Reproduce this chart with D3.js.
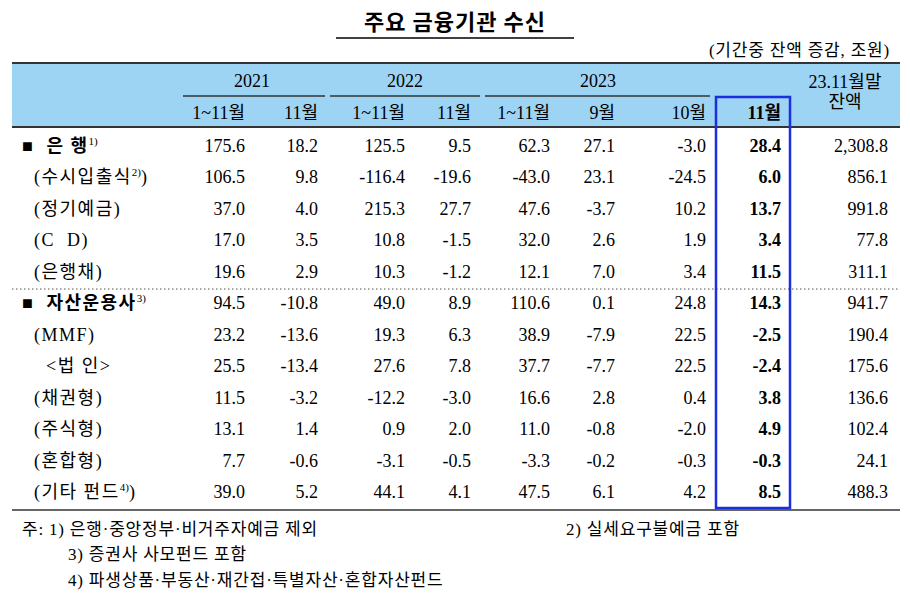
<!DOCTYPE html><html><head><meta charset="utf-8"><script src="https://cdn.jsdelivr.net/npm/d3@7"></script>
<style>body{margin:0;background:#fff} text{white-space:pre}</style></head><body><svg id="c" width="910" height="606"></svg>
<script>
const rowLabels=["은 행","(수시입출식","(정기예금)","(C  D)","(은행채)","자산운용사","(MMF)","  <법 인>","(채권형)","(주식형)","(혼합형)","(기타 펀드"];
const rowSup=["1)","2)","","","","3)","","","","","","4)"];
const rowTail=["","\u0029","","","","","","","","","","\u0029"];
const colLabels=["1~11월","11월","1~11월","11월","1~11월","9월","10월","11월","잔액"];
const years=["2021","2022","2023"];
const v2021a=[175.6,106.5,37.0,17.0,19.6,94.5,23.2,25.5,11.5,13.1,7.7,39.0];
const v2021n=[18.2,9.8,4.0,3.5,2.9,-10.8,-13.6,-13.4,-3.2,1.4,-0.6,5.2];
const v2022a=[125.5,-116.4,215.3,10.8,10.3,49.0,19.3,27.6,-12.2,0.9,-3.1,44.1];
const v2022n=[9.5,-19.6,27.7,-1.5,-1.2,8.9,6.3,7.8,-3.0,2.0,-0.5,4.1];
const v2023a=[62.3,-43.0,47.6,32.0,12.1,110.6,38.9,37.7,16.6,11.0,-3.3,47.5];
const v2023s=[27.1,23.1,-3.7,2.6,7.0,0.1,-7.9,-7.7,2.8,-0.8,-0.2,6.1];
const v2023o=[-3.0,-24.5,10.2,1.9,3.4,24.8,22.5,22.5,0.4,-2.0,-0.3,4.2];
const v2023n=[28.4,6.0,13.7,3.4,11.5,14.3,-2.5,-2.4,3.8,4.9,-0.3,8.5];
const balance=["2,308.8","856.1","991.8","77.8","311.1","941.7","190.4","175.6","136.6","102.4","24.1","488.3"];
const notes=["주: 1) 은행·중앙정부·비거주자예금 제외","2) 실세요구불예금 포함","3) 증권사 사모펀드 포함","4) 파생상품·부동산·재간접·특별자산·혼합자산펀드"];

const svg=d3.select("#c");
const F="'Liberation Serif','Noto Sans CJK KR',serif";
svg.append("text").attr("x",455).attr("y",30).attr("text-anchor","middle").attr("font-family","'Noto Sans CJK KR'").attr("font-weight","bold").attr("font-size",22).attr("letter-spacing",1).text("주요 금융기관 수신");
svg.append("line").attr("x1",336).attr("x2",574).attr("y1",38).attr("y2",38).attr("stroke","#000").attr("stroke-width",1.5);
svg.append("text").attr("x",890).attr("y",56).attr("text-anchor","end").attr("font-family",F).attr("font-size",17).attr("letter-spacing",0.8).text("(기간중 잔액 증감, 조원)");
svg.append("rect").attr("x",12).attr("y",63).attr("width",888).attr("height",64).attr("fill","#9dd3f3");
svg.append("line").attr("x1",12).attr("x2",900).attr("y1",63).attr("y2",63).attr("stroke","#333").attr("stroke-width",2);
svg.append("line").attr("x1",12).attr("x2",900).attr("y1",127).attr("y2",127).attr("stroke","#333").attr("stroke-width",2);
svg.append("line").attr("x1",12).attr("x2",900).attr("y1",510).attr("y2",510).attr("stroke","#333").attr("stroke-width",1.5);
svg.append("line").attr("x1",12).attr("x2",900).attr("y1",289).attr("y2",289).attr("stroke","#555").attr("stroke-dasharray","1.5,2.5");
const colR=[245,318,405,471,550,615,706,781,888];
const yearSpan=[[183,325,252],[330,480,405],[485,710,598]];
years.forEach((y,i)=>{
 svg.append("text").attr("x",yearSpan[i][2]).attr("y",87).attr("text-anchor","middle").attr("font-family",F).attr("font-size",18).text(y);
 svg.append("line").attr("x1",yearSpan[i][0]).attr("x2",yearSpan[i][1]).attr("y1",96).attr("y2",96).attr("stroke","#333").attr("stroke-width",1.5);
});
colLabels.slice(0,8).forEach((c,i)=>{
 svg.append("text").attr("x",colR[i]).attr("y",119).attr("text-anchor","end").attr("font-family",F).attr("font-size",18).attr("font-weight",i==7?"bold":null).text(c);
});
svg.append("text").attr("x",845).attr("y",88).attr("text-anchor","middle").attr("font-family",F).attr("font-size",18).text("23.11월말");
svg.append("text").attr("x",845).attr("y",108).attr("text-anchor","middle").attr("font-family",F).attr("font-size",18).text("잔액");
const y=d3.scaleBand().domain(d3.range(12)).range([130,508]);
const cols=[v2021a,v2021n,v2022a,v2022n,v2023a,v2023s,v2023o,v2023n];
rowLabels.forEach((l,i)=>{
 const cy=y(i)+y.bandwidth()/2+6;
 const bold=(i==0||i==5);
 const t=svg.append("text").attr("x",bold?22:34).attr("y",cy).attr("font-family",F).attr("font-size",18).attr("letter-spacing",1.5);
 if(bold){t.append("tspan").text("■  ");t.append("tspan").attr("font-weight","bold").text(l);}
 else t.append("tspan").text(l);
 if(rowSup[i]) t.append("tspan").attr("font-size",11).attr("letter-spacing",0).attr("dy",-7).text(rowSup[i]);
 if(rowTail[i]) t.append("tspan").attr("dy",7).text(rowTail[i]);
 cols.forEach((c,j)=>{
  svg.append("text").attr("x",colR[j]).attr("y",cy).attr("text-anchor","end").attr("font-family",F).attr("font-size",18).attr("font-weight",j==7?"bold":null).text(d3.format(".1f")(c[i]).replace("−","-"));
 });
 svg.append("text").attr("x",colR[8]).attr("y",cy).attr("text-anchor","end").attr("font-family",F).attr("font-size",18).text(balance[i]);
});
svg.append("rect").attr("x",716).attr("y",97).attr("width",74).attr("height",411).attr("fill","none").attr("stroke","#1a2fe0").attr("stroke-width",2.5);
const nf=(t,x,yy)=>svg.append("text").attr("x",x).attr("y",yy).attr("font-family",F).attr("font-size",17).attr("letter-spacing",0.8).text(t);
nf(notes[0],22,535);nf(notes[1],566,535);nf(notes[2],68,560);nf(notes[3],68,586);
</script></body></html>
